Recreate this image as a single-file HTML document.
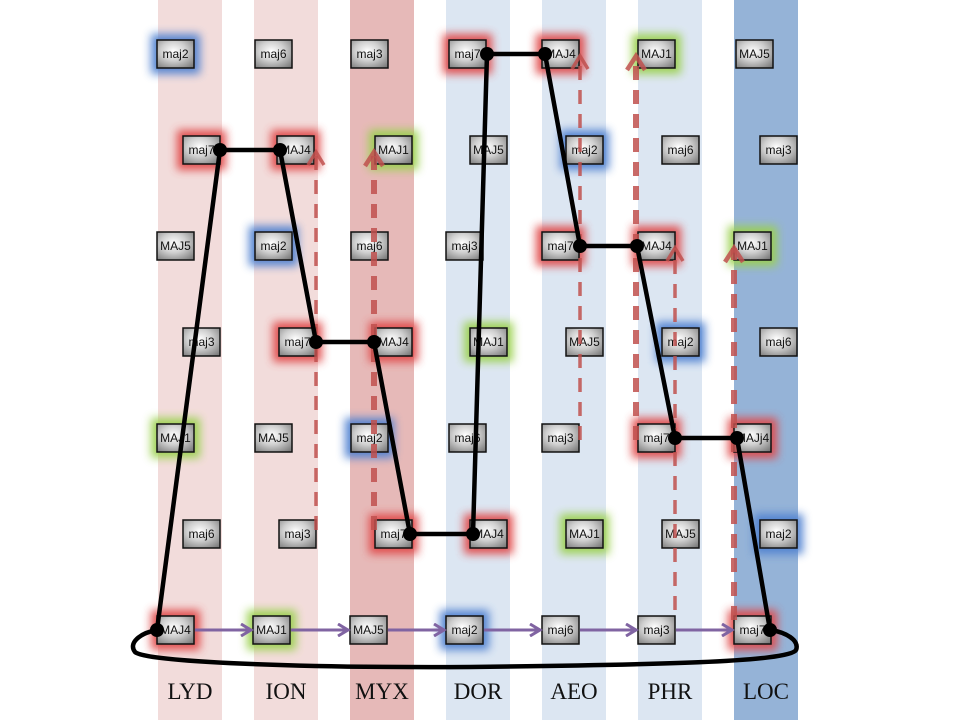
<!DOCTYPE html>
<html><head><meta charset="utf-8"><style>
html,body{margin:0;padding:0;background:#fff;}
svg{display:block;}
.bt{font-family:"Liberation Sans",sans-serif;font-size:12px;fill:#111;text-anchor:middle;dominant-baseline:central;}
.lbl{font-family:"Liberation Serif",serif;font-size:23px;fill:#111;text-anchor:middle;}
</style></head><body>
<svg width="960" height="720" viewBox="0 0 960 720" xmlns="http://www.w3.org/2000/svg">
<defs>
<radialGradient id="g" cx="0.45" cy="0.4" r="0.75">
<stop offset="0" stop-color="#ffffff"/><stop offset="0.45" stop-color="#d0d0d0"/><stop offset="1" stop-color="#7a7a7a"/>
</radialGradient>
<filter id="bl" x="-50%" y="-50%" width="200%" height="200%"><feGaussianBlur stdDeviation="4.5"/></filter>
<marker id="pa" markerWidth="14" markerHeight="14" refX="11" refY="7" orient="auto" markerUnits="userSpaceOnUse">
<path d="M1,1 L11,7 L1,13" fill="none" stroke="#8064a2" stroke-width="3"/></marker>
</defs>
<rect x="158" y="0" width="64" height="720" fill="#f2dcdb"/>
<rect x="254" y="0" width="64" height="720" fill="#f2dcdb"/>
<rect x="350" y="0" width="64" height="720" fill="#e6b9b8"/>
<rect x="446" y="0" width="64" height="720" fill="#dce6f2"/>
<rect x="542" y="0" width="64" height="720" fill="#dce6f2"/>
<rect x="638" y="0" width="64" height="720" fill="#dce6f2"/>
<rect x="734" y="0" width="64" height="720" fill="#95b3d7"/>
<g id="boxes"></g>
<g stroke="#8064a2" stroke-width="3" marker-end="url(#pa)">
<line x1="195" y1="630" x2="251" y2="630"/>
<line x1="291" y1="630" x2="348" y2="630"/>
<line x1="388" y1="630" x2="444" y2="630"/>
<line x1="484" y1="630" x2="540" y2="630"/>
<line x1="580" y1="630" x2="636" y2="630"/>
<line x1="676" y1="630" x2="732" y2="630"/>
</g>
<g stroke="#c0504d" stroke-opacity="0.85" fill="none" stroke-dasharray="14,10">
<line x1="316" y1="530" x2="316" y2="152" stroke-width="3.5"/>
<line x1="374" y1="530" x2="374" y2="152" stroke-width="6"/>
<line x1="580" y1="440" x2="580" y2="56" stroke-width="3.5"/>
<line x1="636" y1="440" x2="636" y2="56" stroke-width="6"/>
<line x1="675" y1="610" x2="675" y2="248" stroke-width="3.5"/>
<line x1="734" y1="620" x2="734" y2="248" stroke-width="6"/>
</g>
<g stroke="#c0504d" stroke-opacity="0.85" fill="none" stroke-width="3.5">
<path d="M308,165 L316,152 L324,165"/>
<path d="M365,166 L374,152 L383,166" stroke-width="4.5"/>
<path d="M572,69 L580,56 L588,69"/>
<path d="M627,70 L636,56 L645,70" stroke-width="4.5"/>
<path d="M667,261 L675,248 L683,261"/>
<path d="M725,262 L734,248 L743,262" stroke-width="4.5"/>
</g>
<polyline points="157,630 220,150 280,150 316,342 374,342 410,534 473,534 487,54 545,54 580,246 637,246 675,438 737,438 770,630" fill="none" stroke="#000" stroke-width="4.5" stroke-linejoin="round"/>
<path d="M157,630 C140,633 128,643 135,652 C145,662 300,668 470,667 C650,665 790,662 796,650 C800,640 785,632 770,630" fill="none" stroke="#000" stroke-width="4.5"/>
<g fill="#000">
<circle cx="157" cy="630" r="7"/><circle cx="220" cy="150" r="7"/><circle cx="280" cy="150" r="7"/>
<circle cx="316" cy="342" r="7"/><circle cx="374" cy="342" r="7"/><circle cx="410" cy="534" r="7"/>
<circle cx="473" cy="534" r="7"/><circle cx="487" cy="54" r="7"/><circle cx="545" cy="54" r="7"/>
<circle cx="580" cy="246" r="7"/><circle cx="637" cy="246" r="7"/><circle cx="675" cy="438" r="7"/>
<circle cx="737" cy="438" r="7"/><circle cx="770" cy="630" r="7"/>
</g>
<g class="lbl">
<text x="190" y="699">LYD</text><text x="286" y="699">ION</text><text x="382" y="699">MYX</text>
<text x="478" y="699">DOR</text><text x="574" y="699">AEO</text><text x="670" y="699">PHR</text><text x="766" y="699">LOC</text>
</g>
</svg>
<script>
var rows=[54,150,246,342,438,534,630];
var d=[
[[157,"maj2","b"],[255,"maj6",""],[351,"maj3",""],[449,"maj7","r"],[542,"MAJ4","r"],[638,"MAJ1","g"],[736,"MAJ5",""]],
[[183,"maj7","r"],[277,"MAJ4","r"],[375,"MAJ1","g"],[470,"MAJ5",""],[566,"maj2","b"],[662,"maj6",""],[760,"maj3",""]],
[[157,"MAJ5",""],[255,"maj2","b"],[351,"maj6",""],[446,"maj3",""],[542,"maj7","r"],[638,"MAJ4","r"],[734,"MAJ1","g"]],
[[183,"maj3",""],[279,"maj7","r"],[375,"MAJ4","r"],[470,"MAJ1","g"],[566,"MAJ5",""],[662,"maj2","b"],[760,"maj6",""]],
[[157,"MAJ1","g"],[255,"MAJ5",""],[351,"maj2","b"],[449,"maj6",""],[542,"maj3",""],[638,"maj7","r"],[734,"MAJj4","r"]],
[[183,"maj6",""],[279,"maj3",""],[375,"maj7","r"],[470,"MAJ4","r"],[566,"MAJ1","g"],[662,"MAJ5",""],[760,"maj2","b"]],
[[157,"MAJ4","r"],[253,"MAJ1","g"],[350,"MAJ5",""],[446,"maj2","b"],[542,"maj6",""],[638,"maj3",""],[734,"maj7","r"]]];
var col={r:"#e04848",g:"#9bd050",b:"#4f81d0"};
var G=document.getElementById("boxes"),s="";
d.forEach(function(r,i){var y=rows[i]-14;r.forEach(function(b){
if(b[2])s+='<rect x="'+(b[0]-6)+'" y="'+(y-6)+'" width="49" height="40" fill="'+col[b[2]]+'" opacity="0.95" filter="url(#bl)"/>';
s+='<rect x="'+b[0]+'" y="'+y+'" width="37" height="28" fill="url(#g)" stroke="#111" stroke-width="1.5"/>';
s+='<text class="bt" x="'+(b[0]+18.5)+'" y="'+(y+14)+'">'+b[1]+'</text>';});});
G.innerHTML=s;
</script>
</body></html>
